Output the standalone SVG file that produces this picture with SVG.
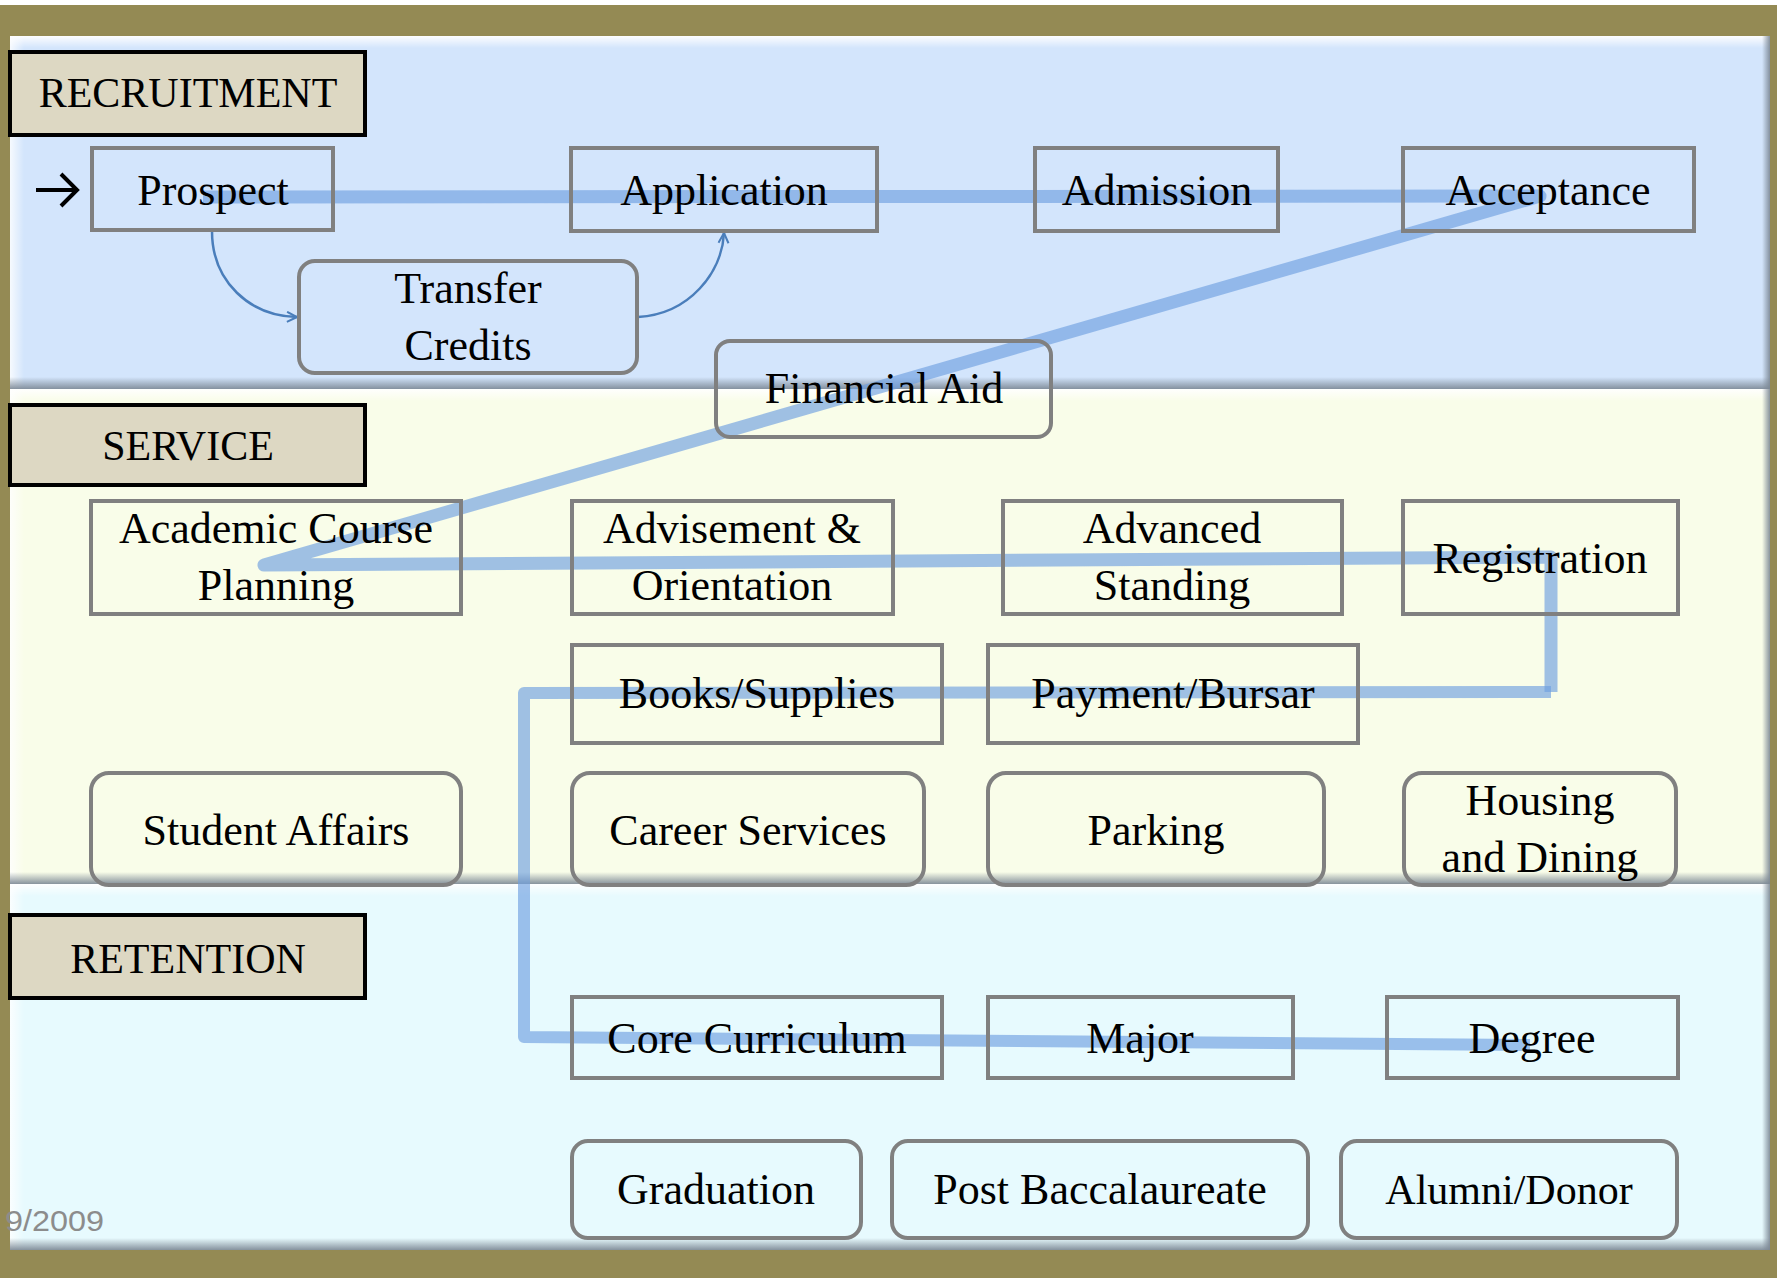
<svg xmlns="http://www.w3.org/2000/svg" width="1777" height="1278" viewBox="0 0 1777 1278">
<defs>
<style>
.panelTxt{font-family:"Liberation Serif","DejaVu Serif",serif;font-size:42px;fill:#000;text-anchor:middle}
.t{font-family:"Liberation Serif","DejaVu Serif",serif;font-size:44px;fill:#000;text-anchor:middle}
.lbl{fill:#DDD8C3;stroke:#000;stroke-width:4}
.box{fill:none;stroke:#808080;stroke-width:4}
.thin{fill:none;stroke:#4A7EBB;stroke-width:2.5}
.path{fill:none;stroke:#6E9FE0;stroke-opacity:0.65;stroke-linejoin:round}
</style>
<linearGradient id="hiTop" x1="0" y1="0" x2="0" y2="1">
<stop offset="0" stop-color="#ffffff" stop-opacity="0.95"/>
<stop offset="1" stop-color="#ffffff" stop-opacity="0"/>
</linearGradient>
<linearGradient id="hiLeft" x1="0" y1="0" x2="1" y2="0">
<stop offset="0" stop-color="#ffffff" stop-opacity="0.8"/>
<stop offset="1" stop-color="#ffffff" stop-opacity="0"/>
</linearGradient>
<linearGradient id="shBot" x1="0" y1="0" x2="0" y2="1">
<stop offset="0" stop-color="#7b8794" stop-opacity="0"/>
<stop offset="1" stop-color="#7b8794" stop-opacity="0.9"/>
</linearGradient>
<linearGradient id="shRight" x1="0" y1="0" x2="1" y2="0">
<stop offset="0" stop-color="#7b8794" stop-opacity="0"/>
<stop offset="1" stop-color="#7b8794" stop-opacity="0.9"/>
</linearGradient>
<marker id="open" viewBox="0 0 12 12" refX="11" refY="6" markerWidth="12" markerHeight="12" markerUnits="userSpaceOnUse" orient="auto">
<path d="M1,1 L11,6 L1,11" fill="none" stroke="#4A7EBB" stroke-width="2"/>
</marker>
</defs>

<!-- background -->
<rect x="0" y="0" width="1777" height="1278" fill="#948A54"/>
<rect x="0" y="0" width="1777" height="5" fill="#ffffff"/>

<!-- panels -->
<g id="panel-recruitment">
<rect x="10" y="36" width="1760" height="353" fill="#D3E5FC"/>
<rect x="10" y="36" width="1760" height="12" fill="url(#hiTop)"/>
<rect x="10" y="36" width="14" height="353" fill="url(#hiLeft)"/>
<rect x="10" y="377" width="1760" height="12" fill="url(#shBot)"/>
<rect x="1762" y="36" width="8" height="353" fill="url(#shRight)"/>
</g>
<g id="panel-service">
<rect x="10" y="389" width="1760" height="495" fill="#F9FDE9"/>
<rect x="10" y="389" width="1760" height="12" fill="url(#hiTop)"/>
<rect x="10" y="389" width="14" height="495" fill="url(#hiLeft)"/>
<rect x="10" y="872" width="1760" height="12" fill="url(#shBot)"/>
<rect x="1762" y="389" width="8" height="495" fill="url(#shRight)"/>
</g>
<g id="panel-retention">
<rect x="10" y="884" width="1760" height="366" fill="#E7FAFE"/>
<rect x="10" y="884" width="1760" height="12" fill="url(#hiTop)"/>
<rect x="10" y="884" width="14" height="366" fill="url(#hiLeft)"/>
<rect x="10" y="1238" width="1760" height="12" fill="url(#shBot)"/>
<rect x="1762" y="884" width="8" height="366" fill="url(#shRight)"/>
</g>

<!-- connectors -->
<g id="connectors">
<path class="path" stroke-width="13" d="M203,197 L1540,196 L264,565 L1551,557 L1551,692"/>
<path class="path" stroke-width="12" d="M1551,692 L524,693 L524,1037 L1530,1045"/>
<path class="thin" marker-end="url(#open)" d="M212,231 C212,282 250,316 297,317"/>
<path class="thin" marker-end="url(#open)" d="M638,317 C690,314 722,272 724,233"/>
<path d="M36,190 L76,190 M61,174 L77,190 L61,206" fill="none" stroke="#000" stroke-width="4"/>
</g>

<!-- section labels -->
<g id="label-recruitment"><rect class="lbl" x="10" y="52" width="355" height="83"/><text class="panelTxt" x="188" y="107">RECRUITMENT</text></g>
<g id="label-service"><rect class="lbl" x="10" y="405" width="355" height="80"/><text class="panelTxt" x="188" y="460">SERVICE</text></g>
<g id="label-retention"><rect class="lbl" x="10" y="915" width="355" height="83"/><text class="panelTxt" x="188" y="973">RETENTION</text></g>

<!-- recruitment nodes -->
<g id="prospect"><rect class="box" x="92" y="148" width="241" height="82"/><text class="t" x="213" y="205">Prospect</text></g>
<g id="application"><rect class="box" x="571" y="148" width="306" height="83"/><text class="t" x="724" y="205">Application</text></g>
<g id="admission"><rect class="box" x="1035" y="148" width="243" height="83"/><text class="t" x="1157" y="205">Admission</text></g>
<g id="acceptance"><rect class="box" x="1403" y="148" width="291" height="83"/><text class="t" x="1548" y="205">Acceptance</text></g>
<g id="transfer-credits"><rect class="box" x="299" y="261" width="338" height="112" rx="16"/><text class="t" x="468" y="303">Transfer</text><text class="t" x="468" y="360">Credits</text></g>
<g id="financial-aid"><rect class="box" x="716" y="341" width="335" height="96" rx="14"/><text class="t" x="884" y="403">Financial Aid</text></g>

<!-- service nodes -->
<g id="academic-course-planning"><rect class="box" x="91" y="501" width="370" height="113"/><text class="t" x="276" y="543">Academic Course</text><text class="t" x="276" y="600">Planning</text></g>
<g id="advisement-orientation"><rect class="box" x="572" y="501" width="321" height="113"/><text class="t" x="732" y="543">Advisement &amp;</text><text class="t" x="732" y="600">Orientation</text></g>
<g id="advanced-standing"><rect class="box" x="1003" y="501" width="339" height="113"/><text class="t" x="1172" y="543">Advanced</text><text class="t" x="1172" y="600">Standing</text></g>
<g id="registration"><rect class="box" x="1403" y="501" width="275" height="113"/><text class="t" x="1540" y="573">Registration</text></g>
<g id="books-supplies"><rect class="box" x="572" y="645" width="370" height="98"/><text class="t" x="757" y="708">Books/Supplies</text></g>
<g id="payment-bursar"><rect class="box" x="988" y="645" width="370" height="98"/><text class="t" x="1173" y="708">Payment/Bursar</text></g>
<g id="student-affairs"><rect class="box" x="91" y="773" width="370" height="112" rx="18"/><text class="t" x="276" y="845">Student Affairs</text></g>
<g id="career-services"><rect class="box" x="572" y="773" width="352" height="112" rx="18"/><text class="t" x="748" y="845">Career Services</text></g>
<g id="parking"><rect class="box" x="988" y="773" width="336" height="112" rx="18"/><text class="t" x="1156" y="845">Parking</text></g>
<g id="housing-dining"><rect class="box" x="1404" y="773" width="272" height="112" rx="18"/><text class="t" x="1540" y="815">Housing</text><text class="t" x="1540" y="872">and Dining</text></g>

<!-- retention nodes -->
<g id="core-curriculum"><rect class="box" x="572" y="997" width="370" height="81"/><text class="t" x="757" y="1053">Core Curriculum</text></g>
<g id="major"><rect class="box" x="988" y="997" width="305" height="81"/><text class="t" x="1140" y="1053">Major</text></g>
<g id="degree"><rect class="box" x="1387" y="997" width="291" height="81"/><text class="t" x="1532" y="1053">Degree</text></g>
<g id="graduation"><rect class="box" x="572" y="1141" width="289" height="97" rx="16"/><text class="t" x="716" y="1204">Graduation</text></g>
<g id="post-baccalaureate"><rect class="box" x="892" y="1141" width="416" height="97" rx="16"/><text class="t" x="1100" y="1204">Post Baccalaureate</text></g>
<g id="alumni-donor"><rect class="box" x="1341" y="1141" width="336" height="97" rx="16"/><text class="t" x="1509" y="1204" style="font-size:42px">Alumni/Donor</text></g>

<text x="5" y="1231" font-family="'Liberation Sans','DejaVu Sans',sans-serif" font-size="30" fill="#8c8c8c" textLength="99" lengthAdjust="spacingAndGlyphs">9/2009</text>
</svg>
